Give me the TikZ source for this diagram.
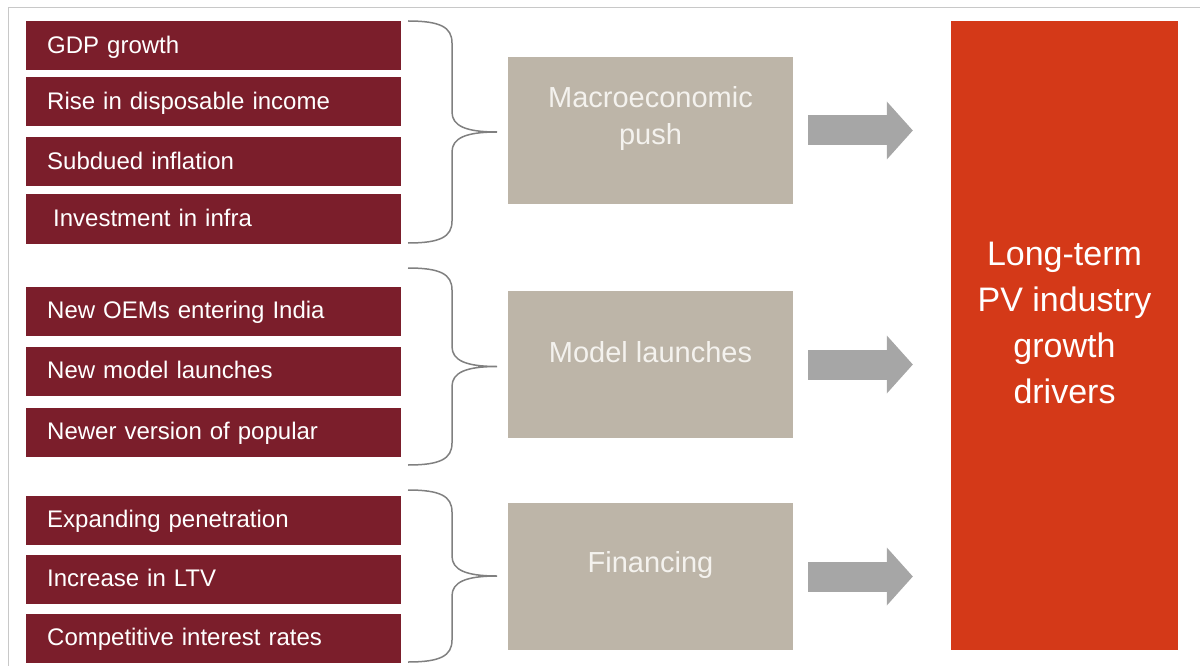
\documentclass[tikz,border=0pt]{standalone}
\usepackage{fontspec}
\setmainfont{Liberation Sans}
\usepackage{tikz}
\usetikzlibrary{arrows.meta,positioning,calc}

\definecolor{factorred}{RGB}{123,30,43}
\definecolor{pushgray}{RGB}{189,181,168}
\definecolor{pushtext}{RGB}{244,242,238}
\definecolor{goalred}{RGB}{212,57,24}
\definecolor{arrowgray}{RGB}{166,166,166}
\definecolor{bracegray}{RGB}{128,128,128}
\definecolor{framegray}{RGB}{200,200,200}

\begin{document}
\begin{tikzpicture}[x=1pt,y=-1pt,
factor/.style={fill=factorred,text=white,anchor=west,minimum height=49pt,text width=333pt,inner xsep=21pt,align=left,text height=20pt,text depth=5pt,font=\fontsize{24}{28}\selectfont},
push/.style={fill=pushgray,minimum width=285pt,minimum height=147pt,inner sep=0pt},
pushlabel/.style={text=pushtext,align=center,font=\fontsize{29}{37}\selectfont,yshift=12pt},
goal/.style={fill=goalred,minimum width=227pt,minimum height=629pt,inner sep=0pt},
goallabel/.style={text=white,align=center,font=\fontsize{34}{46}\selectfont,yshift=13pt},
brace/.style={draw=bracegray,line width=1.5pt},
edge/.style={draw=arrowgray,line width=30pt,-{Triangle[length=26pt,width=58pt,line width=0pt]},shorten <=15pt,shorten >=38pt}]
\useasboundingbox (0,0) rectangle (1200,666);
\draw[framegray,line width=1pt] (8,666) |- (1200,8);

\node(gdp)[factor] at (26,46) {GDP growth};
\node(income)[factor] at (26,102) {Rise in disposable income};
\node(inflation)[factor] at (26,162) {Subdued inflation};
\node(infra)[factor] at (26,219) {\hspace{6pt}Investment in infra};
\node(oems)[factor] at (26,311) {New OEMs entering India};
\node(models)[factor] at (26,371) {New model launches};
\node(versions)[factor] at (26,432) {Newer version of popular};
\node(penetration)[factor] at (26,520) {Expanding penetration};
\node(ltv)[factor] at (26,579) {Increase in LTV};
\node(rates)[factor] at (26,638) {Competitive interest rates};

\node(macro)[push,label={[pushlabel]center:Macroeconomic\\push}] at (650.5,130.5) {};
\node(launch)[push,label={[pushlabel]center:Model launches}] at (650.5,364.5) {};
\node(finance)[push,label={[pushlabel]center:Financing}] at (650.5,576.5) {};

\node(drivers)[goal,label={[goallabel]center:Long-term\\PV industry\\growth\\drivers}] at (1064.5,335.5) {};

\foreach \t/\b in {21/243,268/465,490/662}
{
\pgfmathsetmacro{\m}{(\t+\b)/2}
\draw[brace] (408,\t) .. controls (440,\t) and (452,\t+6) .. (452,\t+22) -- (452,\m-20) .. controls (452,\m-6) and (466,\m) .. (497,\m) .. controls (466,\m) and (452,\m+6) .. (452,\m+20) -- (452,\b-22) .. controls (452,\b-6) and (440,\b) .. (408,\b);
}

\draw [edge] (macro.east) to (macro.east -| drivers.west);
\draw [edge] (launch.east) to (launch.east -| drivers.west);
\draw [edge] (finance.east) to (finance.east -| drivers.west);
\end{tikzpicture}
\end{document}
